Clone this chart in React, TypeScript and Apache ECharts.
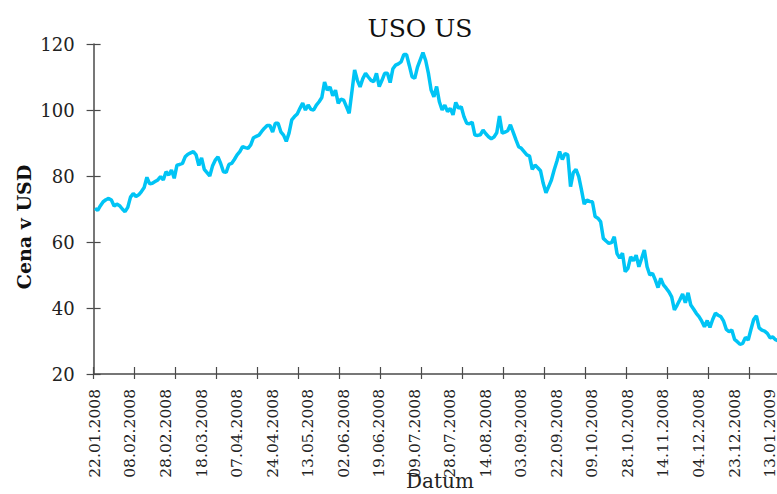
import React, { useEffect, useRef } from "react";
import * as echarts from "echarts";

const TITLE = "USO US";
const Y_NAME = "Cena v USD";
const X_NAME = "Datum";
const START_DATE = "2008-01-22";
const HOLIDAYS = [
  "2008-02-18", "2008-03-21", "2008-05-26", "2008-07-04", "2008-09-01",
  "2008-11-27", "2008-12-25", "2009-01-01", "2009-01-19",
];
const Y_TICKS = [20, 40, 60, 80, 100, 120];

// Daily closing prices (USD), one per trading day
const PRICES = [
  70.2, 69.6, 71.0, 72.2, 72.8, 73.2, 72.7, 70.9, 71.5, 71.0,
  70.0, 69.2, 70.5, 73.6, 74.7, 73.8, 74.3, 75.3, 76.5, 79.6,
  77.6, 77.8, 78.3, 78.8, 79.8, 78.8, 81.3, 80.3, 81.8, 79.3,
  83.3, 83.5, 83.8, 85.8, 86.6, 87.0, 87.4, 86.4, 83.2, 85.5,
  82.0, 81.0, 80.0, 83.0, 84.8, 85.8, 83.8, 81.3, 81.1, 83.5,
  83.8, 85.0, 86.4, 87.4, 88.9, 88.6, 88.4, 89.4, 91.6, 92.0,
  92.4, 93.5, 94.5, 95.3, 95.3, 93.3, 96.0, 96.0, 93.4, 92.4,
  90.5, 93.0, 97.0, 98.0, 98.8, 100.5, 102.1, 100.0, 101.5, 100.2,
  100.0, 101.5, 102.5, 103.8, 108.5, 106.0, 107.0, 104.3, 106.0, 102.0,
  103.3, 103.0, 101.0, 99.0, 105.5, 112.1, 109.0, 107.0, 109.5, 111.1,
  110.0, 109.0, 108.6, 111.1, 107.1, 109.0, 111.1, 111.1, 108.3, 112.5,
  113.6, 114.0, 114.6, 116.8, 116.8, 113.5, 110.1, 109.6, 113.0, 115.2,
  117.4, 115.0, 111.1, 106.0, 104.0, 107.1, 102.5, 100.0, 101.5, 99.5,
  100.5, 98.5, 102.3, 100.5, 101.0, 98.0, 96.0, 95.8, 96.3, 92.4,
  92.3, 92.5, 93.9, 92.8, 91.9, 91.3, 91.8, 93.1, 98.2, 93.0,
  93.3, 93.7, 95.5, 93.3, 91.0, 88.9, 88.4, 87.4, 86.4, 86.0,
  82.0, 83.3, 82.5, 81.6, 77.8, 74.9, 76.8, 78.8, 81.8, 84.5,
  87.4, 85.0, 86.8, 86.4, 76.8, 81.0, 82.0, 79.8, 75.8, 71.5,
  72.7, 72.3, 72.2, 67.7, 67.2, 66.2, 61.1, 60.3, 59.6, 59.8,
  61.6, 56.5, 55.1, 56.6, 51.0, 52.0, 55.5, 54.3, 56.0, 52.5,
  55.0, 57.6, 52.5, 50.0, 50.5, 48.5, 46.2, 49.0, 47.0, 46.0,
  44.9, 43.4, 39.4, 40.9, 42.5, 44.2, 41.6, 44.6, 40.9, 39.7,
  38.4, 37.4, 36.0, 34.3, 36.2, 34.1, 36.5, 38.4, 37.8, 37.4,
  36.0, 33.5, 32.8, 33.3, 30.5, 29.8, 29.0, 29.3, 31.1, 30.3,
  33.5, 36.5, 37.6, 34.0, 33.3, 33.0, 32.3, 31.0, 31.2, 30.4,
  30.0, 29.5, 29.2,
];

function tradingDates(start: string, count: number): string[] {
  const out: string[] = [];
  const d = new Date(start + "T00:00:00Z");
  while (out.length < count) {
    const iso = d.toISOString().slice(0, 10);
    const wd = d.getUTCDay();
    if (wd !== 0 && wd !== 6 && HOLIDAYS.indexOf(iso) < 0) {
      const [y, m, dd] = iso.split("-");
      out.push(`${dd}.${m}.${y}`);
    }
    d.setUTCDate(d.getUTCDate() + 1);
  }
  return out;
}

const CATEGORIES = tradingDates(START_DATE, PRICES.length);

export default function App() {
  const ref = useRef<HTMLDivElement>(null);
  useEffect(() => {
    if (!ref.current) return;
    const chart = echarts.init(ref.current, null, { renderer: "svg" });
    const axisColor = "#4a4a4a";
    const serif = "DejaVu Serif";
    chart.setOption({
      animation: false,
      backgroundColor: "#ffffff",
      grid: { left: 93.6, right: 14.9, top: 44, bottom: 120, containLabel: false },
      graphic: [
        {
          type: "text",
          x: 420,
          y: 16,
          style: {
            text: TITLE,
            font: `25px "${serif}"`,
            fill: "#111111",
            textAlign: "center",
            textVerticalAlign: "top",
          },
        },
        {
          type: "text",
          x: 24,
          y: 227,
          rotation: Math.PI / 2,
          style: {
            text: Y_NAME,
            font: `bold 19px "${serif}"`,
            fill: "#111111",
            textAlign: "center",
            textVerticalAlign: "middle",
          },
        },
        {
          type: "text",
          x: 440,
          y: 471,
          style: {
            text: X_NAME,
            font: `20px "${serif}"`,
            fill: "#222222",
            textAlign: "center",
            textVerticalAlign: "top",
          },
        },
      ],
      xAxis: [
        {
          type: "category",
          data: CATEGORIES,
          boundaryGap: true,
          position: "bottom",
          axisLine: { show: true, lineStyle: { color: axisColor, width: 1.5 } },
          axisTick: { show: true, interval: 14, length: 5, lineStyle: { color: axisColor, width: 1.2 } },
          axisLabel: {
            interval: 12,
            rotate: 90,
            margin: 15,
            fontFamily: serif,
            fontSize: 15.5,
            color: "#222222",
          },
          splitLine: { show: false },
        },
        {
          type: "category",
          data: CATEGORIES,
          boundaryGap: true,
          position: "bottom",
          axisLine: { show: false },
          axisTick: { show: true, inside: true, interval: 14, length: 7, lineStyle: { color: axisColor, width: 1.2 } },
          axisLabel: { show: false },
          splitLine: { show: false },
        },
      ],
      yAxis: [
        {
          type: "value",
          min: Y_TICKS[0],
          max: Y_TICKS[Y_TICKS.length - 1],
          interval: 20,
          axisLine: { show: true, lineStyle: { color: axisColor, width: 1.5 } },
          axisTick: { show: true, length: 7, lineStyle: { color: axisColor, width: 1.2 } },
          axisLabel: { margin: 19, fontFamily: serif, fontSize: 18, color: "#222222" },
          splitLine: { show: false },
        },
        {
          type: "value",
          min: Y_TICKS[0],
          max: Y_TICKS[Y_TICKS.length - 1],
          interval: 20,
          position: "left",
          axisLine: { show: false },
          axisTick: { show: true, inside: true, length: 7, lineStyle: { color: axisColor, width: 1.2 } },
          axisLabel: { show: false },
          splitLine: { show: false },
        },
      ],
      series: [
        {
          type: "line",
          data: PRICES,
          xAxisIndex: 0,
          yAxisIndex: 0,
          showSymbol: false,
          symbol: "none",
          lineStyle: { color: "#00C4F5", width: 3.5 },
          itemStyle: { color: "#00C4F5" },
        },
      ],
    });
    return () => chart.dispose();
  }, []);
  return (
    <div style={{ position: "fixed", left: 0, top: 0, width: 777, height: 494, overflow: "hidden", background: "#fff" }}>
      <div ref={ref} style={{ width: 800, height: 494 }} />
    </div>
  );
}
